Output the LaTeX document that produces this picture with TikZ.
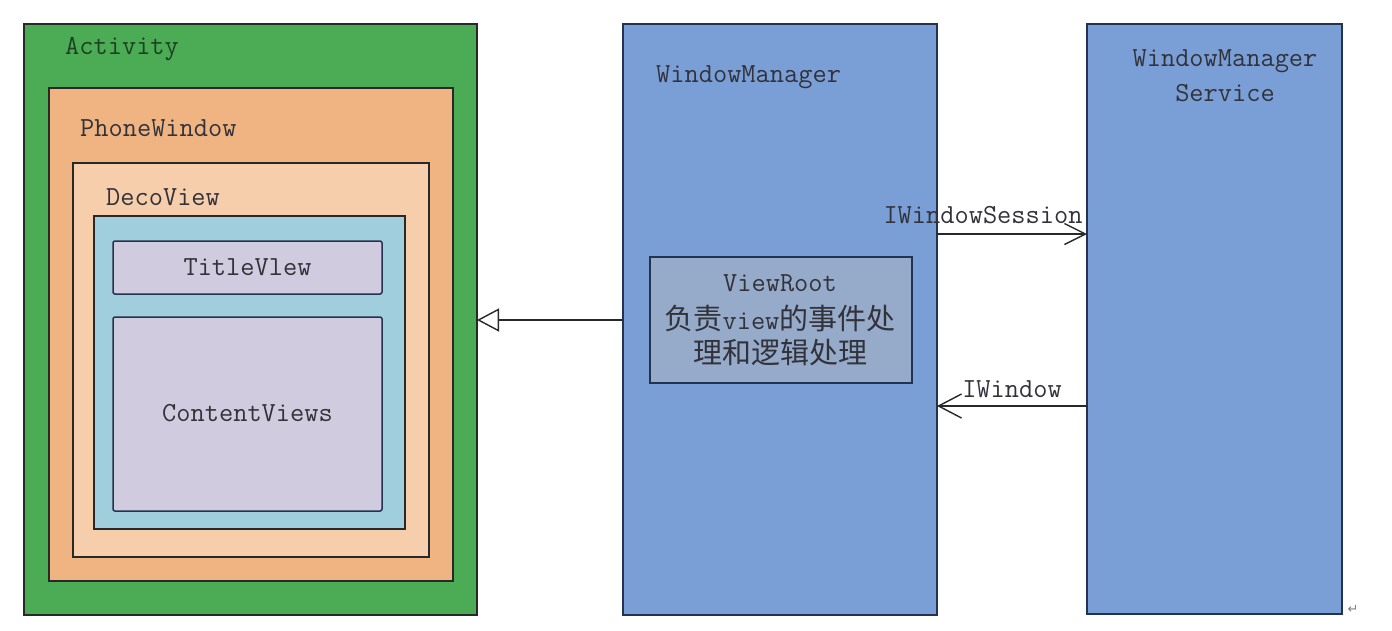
\documentclass[tikz,border=0pt]{standalone}
\usepackage{fontspec}
\newfontfamily\cjk{Noto Sans CJK SC}
\newfontfamily\symfont{DejaVu Sans}
\usetikzlibrary{arrows.meta}
\definecolor{actgreen}{RGB}{76,172,86}
\definecolor{pworange}{RGB}{240,180,130}
\definecolor{decolight}{RGB}{246,206,172}
\definecolor{tealbox}{RGB}{160,206,220}
\definecolor{lavbox}{RGB}{208,203,222}
\definecolor{wmblue}{RGB}{122,159,214}
\definecolor{vrgray}{RGB}{150,170,202}
\definecolor{edgedark}{RGB}{40,40,40}
\definecolor{edgenavy}{RGB}{35,50,80}
\definecolor{txt}{RGB}{50,50,58}
\definecolor{acttxt}{RGB}{28,66,32}
\begin{document}
\begin{tikzpicture}[x=1pt,y=-1pt,
  box/.style={draw=edgedark,line width=1.5pt,inner sep=0pt,outer sep=0pt,anchor=north west,rectangle},
  bbox/.style={draw=edgenavy,line width=1.5pt,inner sep=0pt,outer sep=0pt,anchor=north west,rectangle,fill=wmblue},
  lbl/.style={text=txt,font=\ttfamily\fontsize{27.6}{32}\selectfont,inner sep=0pt,anchor=west},
  ctr/.style={text=txt,font=\ttfamily\fontsize{27.6}{32}\selectfont,inner sep=0pt,align=center},
  conn/.style={draw=edgedark,line width=1.4pt}
]
\useasboundingbox (0,0) rectangle (1392,630);
\fill[white] (0,0) rectangle (1392,630);
% left nested boxes
\node[box,fill=actgreen,minimum width=453pt,minimum height=591pt] (act) at (24,24) {};
\node[box,fill=pworange,minimum width=404pt,minimum height=493pt] (pw) at (49,88) {};
\node[box,fill=decolight,minimum width=356pt,minimum height=394pt] (deco) at (73,163) {};
\node[box,fill=tealbox,minimum width=311pt,minimum height=313pt] (teal) at (94,216) {};
\node[box,draw=edgenavy,fill=lavbox,rounded corners=2pt,minimum width=269pt,minimum height=53pt] (title) at (113,241) {};
\node[box,draw=edgenavy,fill=lavbox,rounded corners=2pt,minimum width=269pt,minimum height=194pt] (content) at (113,317) {};
\node[lbl,text=acttxt] (actl) at (65,49) {Activity};
\node[lbl] (pwl) at (80,128) {PhoneWindow};
\node[lbl] (decol) at (106,197) {DecoView};
\node[ctr] (titlel) at (title.center) {TitleVlew};
\node[ctr] (contentl) at ([yshift=1pt]content.center) {ContentViews};
% window manager
\node[bbox,minimum width=314pt,minimum height=591pt] (wm) at (623,24) {};
\node[lbl] (wml) at (656,77) {WindowManager};
\node[box,draw=edgenavy,fill=vrgray,minimum width=262pt,minimum height=126pt] (vr) at (650,257) {};
\node[ctr] (vr1) at (780,283) {ViewRoot};
\node[ctr] (vr2) at (780,318) {{\cjk\fontsize{29}{32}\selectfont 负责}view{\cjk\fontsize{29}{32}\selectfont 的事件处}};
\node[ctr] (vr3) at (780,352) {{\cjk\fontsize{29}{32}\selectfont 理和逻辑处理}};
% window manager service
\node[bbox,minimum width=255pt,minimum height=590pt] (wms) at (1087,24) {};
\node[ctr,font=\ttfamily\fontsize{27.6}{35}\selectfont] (wmsl) at (1225,76) {WindowManager\\Service};
% connectors
\coordinate (inh) at (623,320);
\draw[conn,-{Triangle[open,length=22pt,width=23pt,line width=1.4pt]}] (inh) -- (inh -| act.east);
\coordinate (ses) at (937,234);
\draw[conn,-{Straight Barb[length=21pt,width=21pt,line width=1.4pt]}] (ses) -- (ses -| wms.west);
\coordinate (iwin) at (1087,406);
\draw[conn,-{Straight Barb[length=23pt,width=24pt,line width=1.4pt]}] (iwin) -- (iwin -| wm.east);
\node[ctr] (sesl) at (983,215) {IWindowSession};
\node[ctr] (iwinl) at (1012,389) {IWindow};
\node[text=gray,font=\symfont\fontsize{13}{14}\selectfont,inner sep=0pt] (para) at (1353,609) {↵};
\end{tikzpicture}
\end{document}
